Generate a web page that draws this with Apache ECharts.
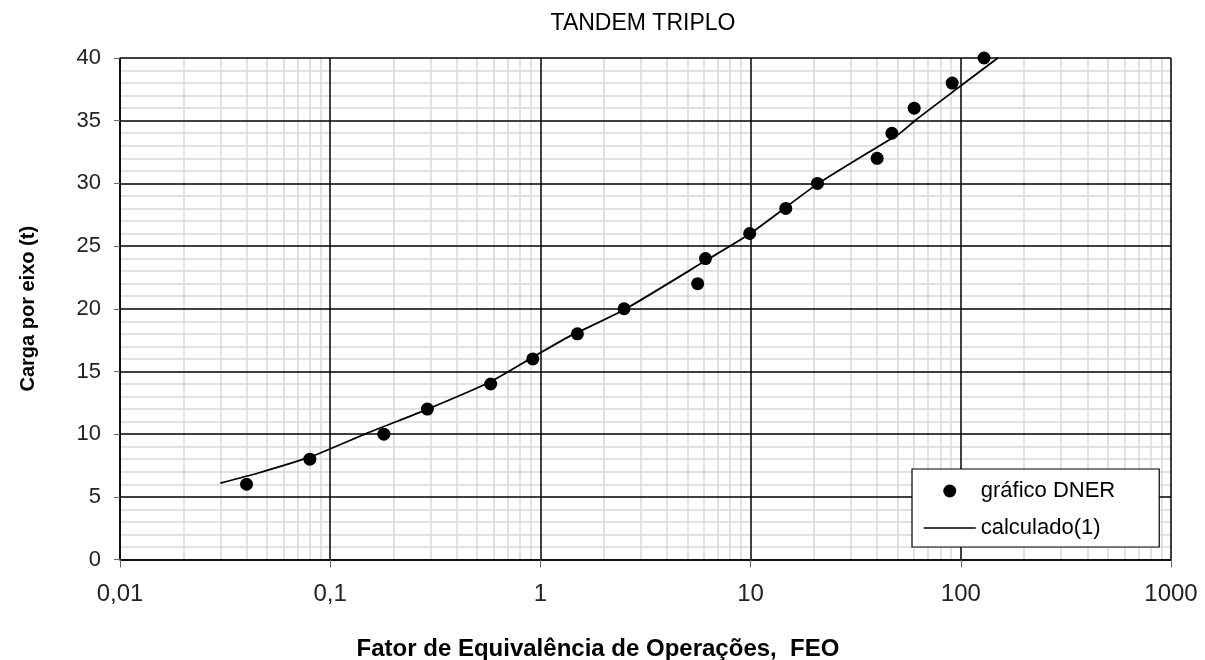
<!DOCTYPE html>
<html>
<head>
<meta charset="utf-8">
<script src="https://cdn.jsdelivr.net/npm/echarts@6/dist/echarts.min.js"></script>
<style>
html,body{margin:0;padding:0;background:#fff;}
#chart{width:1205px;height:660px;}
</style>
</head>
<body>
<div id="chart"></div>
<script>
const titleText = 'TANDEM TRIPLO';
const xAxisName = 'Fator de Equivalência de Operações,  FEO';
const yAxisName = 'Carga por eixo (t)';
const xTickLabels = ['0,01', '0,1', '1', '10', '100', '1000'];
const seriesNames = ['gráfico DNER', 'calculado(1)'];

// "gráfico DNER" points
const dnerFEO  = [0.04, 0.08, 0.18, 0.29, 0.58, 0.92, 1.5, 2.5, 5.6, 6.1, 9.9, 14.7, 20.8, 40, 47, 60, 91, 129];
const dnerLoad = [6, 8, 10, 12, 14, 16, 18, 20, 22, 24, 26, 28, 30, 32, 34, 36, 38, 40];

// "calculado(1)" curve
const calcFEO  = [0.03, 0.0455, 0.081, 0.151, 0.291, 0.582, 0.934, 1.34, 2.49, 6.2, 9.96, 20.6, 38.3, 51.3, 61.5, 98.6, 150];
const calcLoad = [6.1, 6.9, 8.2, 10.1, 12.0, 14.2, 16.2, 17.7, 19.9, 23.9, 26.0, 29.9, 32.7, 34.0, 35.1, 37.7, 40];

const FONT = '"Liberation Sans", Arial, sans-serif';

const minorX = [];
for (let e = -2; e < 3; e++) {
  for (let m = 2; m < 10; m++) {
    minorX.push({ xAxis: +(m * Math.pow(10, e)).toPrecision(3) });
  }
}

const chart = echarts.init(document.getElementById('chart'), null, { renderer: 'canvas' });

const option = {
  animation: false,
  backgroundColor: '#fff',
  textStyle: { fontFamily: FONT },
  grid: { left: 120, right: 34, top: 58, bottom: 100.5, containLabel: false },
  graphic: [
    {
      type: 'text', x: 643, y: 24, silent: true,
      style: { text: titleText, fontFamily: FONT, fontSize: 23, fill: '#000', align: 'center', verticalAlign: 'middle' }
    },
    {
      type: 'text', x: 598, y: 649, silent: true,
      style: { text: xAxisName, fontFamily: FONT, fontSize: 24, fontWeight: 'bold', fill: '#000', align: 'center', verticalAlign: 'middle' }
    }
  ],
  legend: {
    data: [
      { name: seriesNames[0], icon: 'circle', itemStyle: { color: '#000', opacity: 1 } },
      { name: seriesNames[1], itemStyle: { opacity: 0 }, lineStyle: { color: '#000', width: 1.5, opacity: 1 } }
    ],
    orient: 'vertical',
    left: 912,
    top: 469,
    padding: [11, 44, 8, 11],
    itemGap: 15,
    itemWidth: 52,
    itemHeight: 13,
    backgroundColor: '#fff',
    borderColor: '#000',
    borderWidth: 1.2,
    borderRadius: 0,
    textStyle: { fontFamily: FONT, fontSize: 22, color: '#000' }
  },
  xAxis: {
    type: 'log',
    logBase: 10,
    min: 0.01,
    max: 1000,
    splitNumber: 5,
    axisLine: { show: true, onZero: false, lineStyle: { color: '#000', width: 1.5 } },
    axisTick: { show: true, length: 8, lineStyle: { color: '#666', width: 1 } },
    axisLabel: {
      margin: 23, fontSize: 24, color: '#222', fontFamily: FONT,
      formatter: function (v) { return xTickLabels[Math.round(Math.log10(v)) + 2]; }
    },
    splitLine: { show: true, lineStyle: { color: '#000', width: 1.5 } },
    minorTick: { show: false },
    minorSplitLine: { show: false }
  },
  yAxis: {
    type: 'value',
    min: 0,
    max: 40,
    interval: 5,
    name: yAxisName,
    nameLocation: 'middle',
    nameGap: 82,
    nameTextStyle: { fontSize: 20, fontWeight: 'bold', color: '#000', fontFamily: FONT },
    axisLine: { show: true, lineStyle: { color: '#000', width: 1.5 } },
    axisTick: { show: true, length: 6, lineStyle: { color: '#666', width: 1 } },
    axisLabel: { margin: 19, fontSize: 22, color: '#222', fontFamily: FONT },
    splitLine: { show: true, lineStyle: { color: '#000', width: 1.5 } },
    minorTick: { show: false, splitNumber: 5 },
    minorSplitLine: { show: true, lineStyle: { color: '#d9d9d9', width: 1.5 } }
  },
  series: [
    {
      name: 'minor-grid',
      type: 'line',
      data: [],
      silent: true,
      z: -1,
      markLine: {
        silent: true,
        z: -1,
        symbol: ['none', 'none'],
        label: { show: false },
        emphasis: { disabled: true },
        lineStyle: { color: '#d9d9d9', width: 1.5, type: 'solid' },
        data: minorX
      }
    },
    {
      name: seriesNames[1],
      type: 'line',
      data: calcFEO.map((x, i) => [x, calcLoad[i]]),
      showSymbol: false,
      symbol: 'none',
      symbolSize: 0,
      smooth: 0.2,
      lineStyle: { color: '#000', width: 1.8 },
      itemStyle: { color: '#000' },
      z: 3
    },
    {
      name: seriesNames[0],
      type: 'scatter',
      data: dnerFEO.map((x, i) => [x, dnerLoad[i]]),
      symbol: 'circle',
      symbolSize: 13,
      itemStyle: { color: '#000', opacity: 1 },
      z: 4
    }
  ]
};

chart.setOption(option);
</script>
</body>
</html>
